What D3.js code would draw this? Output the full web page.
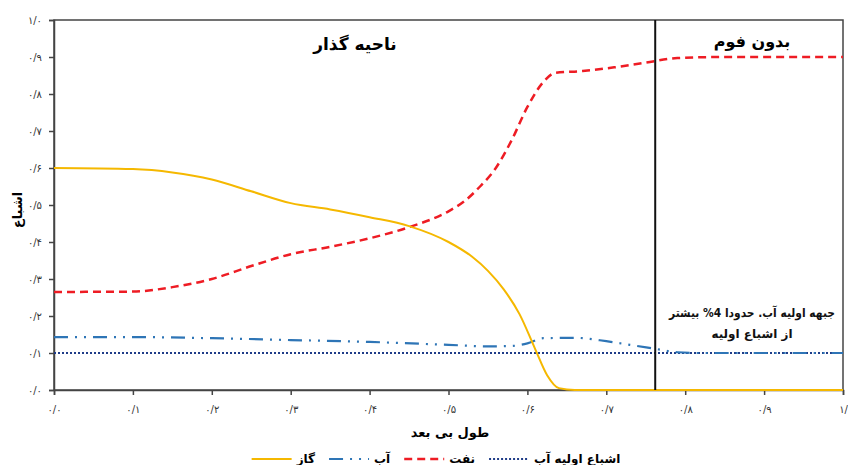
<!DOCTYPE html>
<html><head><meta charset="utf-8">
<script src="https://cdn.jsdelivr.net/npm/d3@7"></script>
<style>body{margin:0;background:#fff}svg{display:block}text{font-family:"DejaVu Sans","Noto Sans",sans-serif}</style>
</head><body><svg id="c" width="848" height="465"></svg>
<script>
const xTicks=[0,0.1,0.2,0.3,0.4,0.5,0.6,0.7,0.8,0.9,1];
const yTicks=[0,0.1,0.2,0.3,0.4,0.5,0.6,0.7,0.8,0.9,1];
const xTickLabels=["۰/۰","۰/۱","۰/۲","۰/۳","۰/۴","۰/۵","۰/۶","۰/۷","۰/۸","۰/۹","۱/"];
const yTickLabels=["۰/۰","۰/۱","۰/۲","۰/۳","۰/۴","۰/۵","۰/۶","۰/۷","۰/۸","۰/۹","۱/۰"];
const xGas=[0,0.1,0.15,0.2,0.25,0.3,0.35,0.4,0.45,0.5,0.53,0.55,0.57,0.59,0.61,0.625,0.64,0.66,0.7,0.8,0.9,1];
const gas=[0.6,0.597,0.588,0.569,0.537,0.505,0.488,0.467,0.443,0.4,0.36,0.322,0.272,0.205,0.11,0.04,0.005,0,0,0,0,0];
const xOil=[0,0.1,0.15,0.2,0.25,0.3,0.35,0.4,0.45,0.5,0.52,0.54,0.56,0.58,0.6,0.62,0.635,0.67,0.71,0.75,0.79,0.85,0.9,1];
const oil=[0.265,0.266,0.278,0.3,0.335,0.367,0.387,0.41,0.44,0.483,0.51,0.55,0.6,0.675,0.765,0.832,0.857,0.862,0.872,0.885,0.897,0.9,0.9,0.9];
const xWater=[0,0.1,0.2,0.3,0.4,0.5,0.55,0.58,0.6,0.62,0.66,0.7,0.73,0.76,0.79,0.82,0.9,1];
const water=[0.143,0.143,0.14,0.135,0.13,0.122,0.118,0.119,0.126,0.14,0.141,0.132,0.122,0.112,0.102,0.1,0.1,0.1];
const xInit=[0,1];
const initWater=[0.1,0.1];
const frontX=0.762;
const seriesNames=["گاز","آب","نفت","اشباع اولیه آب"];
const regionLabels=["ناحیه گذار","بدون فوم"];
const note=["جبهه اولیه آب. حدودا 4% بیشتر","از اشباع اولیه"];
const xTitle="طول بی بعد", yTitle="اشباع";

const svg=d3.select("#c");
const L=54,R=843,T=20,B=390;
const x=d3.scaleLinear().domain([0,1]).range([L,R]);
const y=d3.scaleLinear().domain([0,1]).range([B,T]);
const axisCol="#444";

svg.append("rect").attr("x",L).attr("y",T).attr("width",R-L).attr("height",B-T).attr("fill","none").attr("stroke",axisCol).attr("stroke-width",1.5);

const ya=svg.append("g").attr("transform",`translate(${L},0)`).call(d3.axisLeft(y).tickValues(yTicks).tickSize(5).tickFormat((d,i)=>yTickLabels[i]));
const xa=svg.append("g").attr("transform",`translate(0,${B})`).call(d3.axisBottom(x).tickValues(xTicks).tickSize(5).tickFormat((d,i)=>xTickLabels[i]));
[ya,xa].forEach(g=>{g.select(".domain").attr("stroke",axisCol).attr("stroke-width",1.5);
 g.selectAll(".tick line").attr("stroke",axisCol).attr("stroke-width",1.5);
 g.selectAll(".tick text").attr("font-size",10).attr("fill","#333");});
ya.selectAll(".tick text").attr("x",-12);
xa.selectAll(".tick text").attr("y",16);

const line=(xs,ys)=>d3.line().x((d,i)=>x(xs[i])).y(d=>y(d)).curve(d3.curveMonotoneX)(ys);

svg.append("path").attr("d",line(xInit,initWater)).attr("fill","none").attr("stroke","#1f3c88").attr("stroke-width",2).attr("stroke-dasharray","2,2");
svg.append("path").attr("d",line(xWater,water)).attr("fill","none").attr("stroke","#2e75b6").attr("stroke-width",2.2).attr("stroke-dasharray","14,7,2,7,2,7");
svg.append("path").attr("d",line(xOil,oil)).attr("fill","none").attr("stroke","#ee1c24").attr("stroke-width",2.5).attr("stroke-dasharray","8,5");
svg.append("path").attr("d",line(xGas,gas)).attr("fill","none").attr("stroke","#f5b800").attr("stroke-width",2);

svg.append("line").attr("x1",x(frontX)).attr("x2",x(frontX)).attr("y1",y(1)).attr("y2",y(0)).attr("stroke","#111").attr("stroke-width",2);

svg.append("text").attr("x",355).attr("y",50).attr("text-anchor","middle").attr("font-size",17).attr("font-weight","bold").attr("direction","rtl").text(regionLabels[0]);
svg.append("text").attr("x",752).attr("y",47).attr("text-anchor","middle").attr("font-size",16).attr("font-weight","bold").attr("direction","rtl").text(regionLabels[1]);
note.forEach((t,i)=>{const tx=svg.append("text").attr("x",752).attr("y",317+i*21).attr("text-anchor","middle").attr("font-size",12).attr("font-weight","bold").attr("direction","rtl").attr("fill","#111").text(t);
 const w=tx.node().getComputedTextLength(); const maxW=i===0?166:96; if(w>maxW) tx.attr("textLength",maxW).attr("lengthAdjust","spacingAndGlyphs");});

svg.append("text").attr("x",450).attr("y",437).attr("text-anchor","middle").attr("font-size",13).attr("font-weight","bold").attr("direction","rtl").text(xTitle);
svg.append("text").attr("transform","translate(22,210) rotate(-90)").attr("text-anchor","middle").attr("font-size",13).attr("font-weight","bold").attr("direction","rtl").text(yTitle);

// legend (sequential layout)
const legStyle=[{c:"#f5b800",da:null,w:2},{c:"#2e75b6",da:"14,7,2,7,2,7",w:2.2},{c:"#ee1c24",da:"8,5",w:2.5},{c:"#1f3c88",da:"2,2",w:2}];
const lg=svg.append("g");
let cx=0;
seriesNames.forEach((n,i)=>{
 const s=legStyle[i];
 lg.append("line").attr("x1",cx).attr("x2",cx+40).attr("y1",459).attr("y2",459).attr("stroke",s.c).attr("stroke-width",s.w).attr("stroke-dasharray",s.da);
 const t=lg.append("text").attr("x",cx+45).attr("y",463).attr("font-size",12).attr("font-weight","bold").text(n);
 cx+=45+t.node().getComputedTextLength()+14;
});
const total=cx-14;
lg.attr("transform",`translate(${436-total/2},0)`);
</script></body></html>
